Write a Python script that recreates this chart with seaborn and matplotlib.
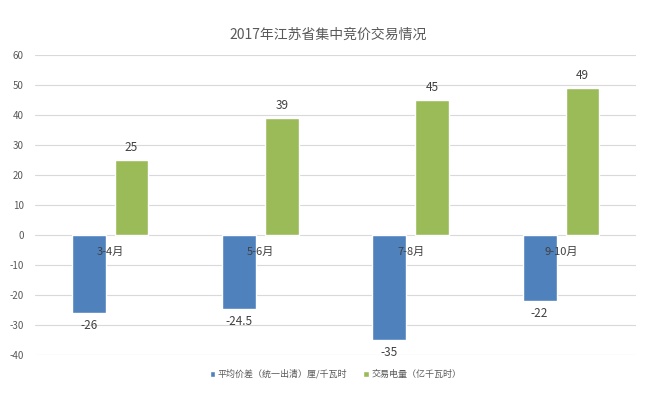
import pandas as pd
import matplotlib.pyplot as plt
import seaborn as sns

periods = ['3-4月', '5-6月', '7-8月', '9-10月']
price_diff = [-26, -24.5, -35, -22]
volume = [25, 39, 45, 49]
series_names = ['平均价差（统一出清）厘/千瓦时', '交易电量（亿千瓦时）']
yticks = list(range(-40, 61, 10))

df = pd.DataFrame({
    'period': periods * 2,
    'value': price_diff + volume,
    'series': [series_names[0]] * 4 + [series_names[1]] * 4,
})

sns.set_style('white')
plt.rcParams['font.family'] = ['Noto Sans CJK SC', 'DejaVu Sans']

fig = plt.figure(figsize=(6.57, 3.95), dpi=100)
ax = fig.add_axes([0.0533, 0.101, 0.915, 0.760])

sns.barplot(data=df, x='period', y='value', hue='series',
            palette=['#4F81BD', '#9BBB59'], width=0.57, gap=0.21,
            saturation=1, ax=ax, legend=True)

ax.set_ylim(-40, 60)
ax.set_yticks(yticks)
ax.set_yticklabels([str(t) for t in yticks], color='#595959', fontsize=7)
ax.yaxis.grid(True, color='#D9D9D9', linewidth=0.8)
ax.set_axisbelow(True)
ax.tick_params(axis='y', length=0, pad=8)
ax.set_xlabel('')
ax.set_ylabel('')
ax.set_xticks([])
for s in ax.spines.values():
    s.set_visible(False)

# category labels just below the zero line
for i, p in enumerate(periods):
    ax.text(i, -5.6, p, ha='center', va='center', fontsize=8, color='#404040')

# value labels
for cont in ax.containers:
    for bar in cont:
        h = bar.get_height()
        x = bar.get_x() + bar.get_width() / 2
        lbl = f'{h:g}'
        if h >= 0:
            ax.text(x, h + 2, lbl, ha='center', va='bottom', fontsize=8.5, color='#404040')
        else:
            ax.text(x, h - 2, lbl, ha='center', va='top', fontsize=8.5, color='#404040')

leg = ax.legend(loc='upper center', bbox_to_anchor=(0.5, -0.02), ncol=2,
                frameon=False, fontsize=6.5, handlelength=0.6, handleheight=0.6,
                handletextpad=0.3, columnspacing=1.8)
for t in leg.get_texts():
    t.set_color('#595959')

fig.suptitle('2017年江苏省集中竞价交易情况', x=0.5, y=0.93, fontsize=10, color='#595959')

fig.savefig('out.png', dpi=100, facecolor='white')
